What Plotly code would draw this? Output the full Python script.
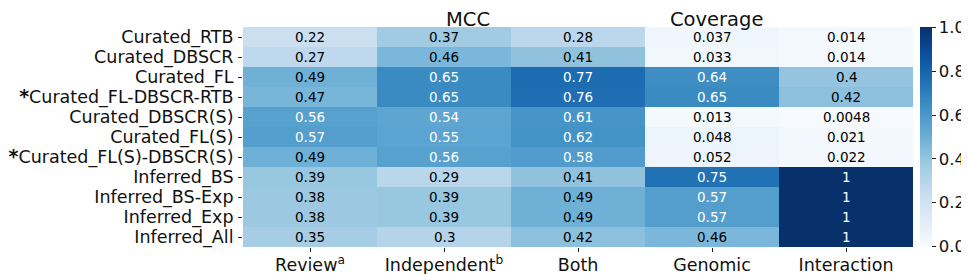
import plotly.graph_objects as go

rows = ["Curated_RTB", "Curated_DBSCR", "Curated_FL", "Curated_FL-DBSCR-RTB",
        "Curated_DBSCR(S)", "Curated_FL(S)", "Curated_FL(S)-DBSCR(S)",
        "Inferred_BS", "Inferred_BS-Exp", "Inferred_Exp", "Inferred_All"]
starred = ["Curated_FL-DBSCR-RTB", "Curated_FL(S)-DBSCR(S)"]
columns = ["Review", "Independent", "Both", "Genomic", "Interaction"]
column_labels = ["Review<sup>a</sup>", "Independent<sup>b</sup>", "Both", "Genomic", "Interaction"]

review = [0.22, 0.27, 0.49, 0.47, 0.56, 0.57, 0.49, 0.39, 0.38, 0.38, 0.35]
independent = [0.37, 0.46, 0.65, 0.65, 0.54, 0.55, 0.56, 0.29, 0.39, 0.39, 0.3]
both = [0.28, 0.41, 0.77, 0.76, 0.61, 0.62, 0.58, 0.41, 0.49, 0.49, 0.42]
genomic = [0.037, 0.033, 0.64, 0.65, 0.013, 0.048, 0.052, 0.75, 0.57, 0.57, 0.46]
interaction = [0.014, 0.014, 0.4, 0.42, 0.0048, 0.021, 0.022, 1, 1, 1, 1]

series = [review, independent, both, genomic, interaction]
z = [[s[i] for s in series] for i in range(len(rows))]

blues = ['rgb(247,251,255)', 'rgb(222,235,247)', 'rgb(198,219,239)', 'rgb(158,202,225)',
         'rgb(107,174,214)', 'rgb(66,146,198)', 'rgb(33,113,181)', 'rgb(8,81,156)', 'rgb(8,48,107)']
colorscale = [[i / (len(blues) - 1), c] for i, c in enumerate(blues)]

FONT = "DejaVu Sans"

# page body has an 8px margin, so the figure is sized/offset to compensate
W, H = 961, 266
L, R, T, B = 235, 56, 19, 27
PW = W - L - R

fig = go.Figure(go.Heatmap(
    z=z, x=columns, y=rows, zmin=0, zmax=1, colorscale=colorscale,
    hoverinfo="skip",
    colorbar=dict(thickness=12, len=219 / 220, lenmode="fraction", x=1 + 7 / PW, xanchor="left",
                  xpad=0, ypad=0, y=0.5, yanchor="middle", outlinewidth=0,
                  tickmode="linear", tick0=0, dtick=0.2, tickformat=".1f",
                  ticks="outside", ticklen=4, tickcolor="#222",
                  tickfont=dict(family=FONT, size=16.5, color="#111")),
))

annotations = []
for i, r in enumerate(rows):
    for j, c in enumerate(columns):
        v = z[i][j]
        annotations.append(dict(
            x=c, y=r, xref="x", yref="y", text="{:.2g}".format(v), showarrow=False,
            font=dict(family=FONT, size=13.5, color="white" if v > 0.5 else "black")))

annotations.append(dict(x=(444 - 243) / PW, y=1, xref="paper", yref="paper", yanchor="middle",
                        yshift=8, text="MCC", showarrow=False,
                        font=dict(family=FONT, size=19.5, color="#111")))
annotations.append(dict(x=(765 - 243) / PW, y=1, xref="paper", yref="paper", yanchor="middle",
                        yshift=8, text="Coverage", showarrow=False,
                        font=dict(family=FONT, size=19.5, color="#111")))

ticktext = [("<b><span style='font-size:19px'>*</span></b>" + r) if r in starred else r for r in rows]

fig.update_layout(
    width=W, height=H,
    margin=dict(l=L, r=R, t=T, b=B, autoexpand=False),
    paper_bgcolor="white", plot_bgcolor="white",
    annotations=annotations,
    xaxis=dict(tickmode="array", tickvals=columns, ticktext=column_labels,
               ticks="outside", ticklen=4, tickcolor="#222", showgrid=False, zeroline=False,
               automargin=False, ticklabelstandoff=-2,
               tickfont=dict(family=FONT, size=17.5, color="#111")),
    yaxis=dict(tickmode="array", tickvals=rows, ticktext=ticktext, autorange="reversed",
               ticks="outside", ticklen=4, tickcolor="#222", showgrid=False, zeroline=False,
               automargin=False, ticklabelstandoff=1,
               tickfont=dict(family=FONT, size=17.5, color="#111")),
)

fig.write_html("out.html")
